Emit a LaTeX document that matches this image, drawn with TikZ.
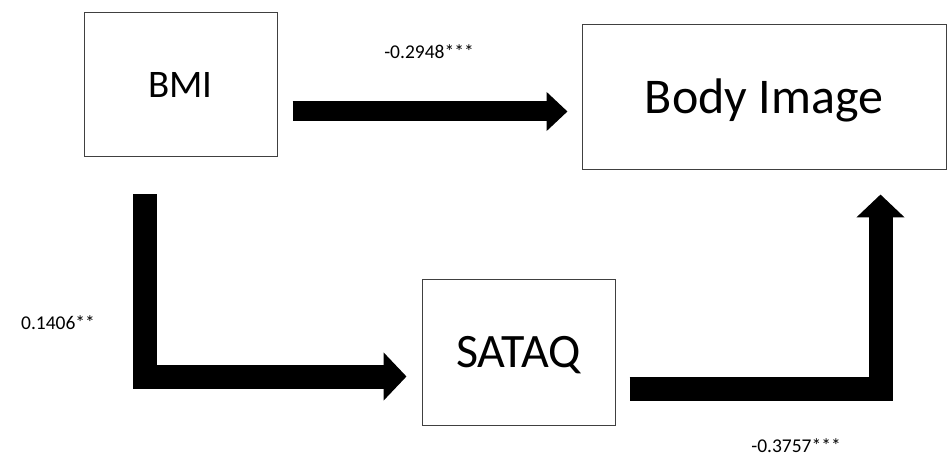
\documentclass[tikz,border=0pt]{standalone}
\usepackage{fontspec}
\setmainfont{Carlito}
\usetikzlibrary{arrows.meta,calc}

\tikzset{
  varbox/.style={draw=black!75, line width=1pt, text depth=0pt},
  coef/.style={font=\fontsize{19.5}{22}\selectfont, text height=12.5pt, text depth=0pt, inner sep=0pt},
  fatarrow/.style n args={3}{line width=#1pt, line join=miter, -{Triangle[width=#2pt,length=#3pt]}}
}

\begin{document}
\begin{tikzpicture}[x=1pt,y=-1pt]

\useasboundingbox (0,0) rectangle (948,457);

% variables
\node [varbox, minimum width=193pt, minimum height=144pt, text height=25pt, font=\fontsize{39}{44}\selectfont] (bmi) at (180.5,85) {BMI};
\node [varbox, minimum width=364pt, minimum height=145pt, text height=32pt, font=\fontsize{50}{56}\selectfont] (body) at (764,97.5) {Body Image};
\node [varbox, minimum width=193pt, minimum height=146pt, text height=31pt, font=\fontsize{48}{54}\selectfont] (sataq) at (518.5,352) {SATAQ};

% paths
\draw [fatarrow={20}{38}{21}] ($(bmi.east)+(15,26.5)$) -- ($(body.west)+(-14,14)$);
\draw [fatarrow={24}{47}{23}] ($(bmi.south)+(-35.5,37)$) |- ($(sataq.west)+(-15,24.5)$);
\draw [fatarrow={24}{47}{23}] ($(sataq.east)+(14,36.5)$) -| ($(body.south)+(116.5,24)$);

% coefficients
\node [coef] (cdirect) at (429,52) {-0.2948***};
\node [coef] (ca) at (58,323) {0.1406**};
\node [coef] (cb) at (796,446.5) {-0.3757***};

\end{tikzpicture}
\end{document}
